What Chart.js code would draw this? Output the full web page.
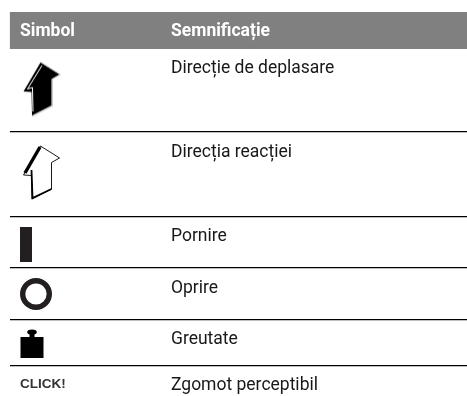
<!DOCTYPE html>
<html><head><meta charset="utf-8">
<script src="https://cdn.jsdelivr.net/npm/chart.js@4/dist/chart.umd.js"></script>
<style>html,body{margin:0;padding:0;background:#fff}#w{position:relative;width:467px;height:396px}</style>
</head><body><div id="w"><canvas id="c" width="467" height="396"></canvas></div>
<script>
// Table content
const headers = ["Simbol", "Semnificație"];
const meanings = ["Direcție de deplasare", "Direcția reacției", "Pornire", "Oprire", "Greutate", "Zgomot perceptibil"];
const symbolNames = ["arrowFilled", "arrowOutline", "bar", "ring", "weight", "click"];
// Axis values (table units)
const headerBand = [12, 49];
const rowRules = [132, 216.4, 267.3, 319.4, 365.4];
const meaningBaselines = [73, 157, 241, 292.7, 343.7, 390];
const symbolX = [32.5, 32.5, 16.5, 26.5, 22.5];
const symbolY = [89.5, 173, 244.5, 294, 343];
const textColumnX = 161.5, symbolColumnX = 10.5;

function icon(w, h, draw) {
  const c = document.createElement('canvas');
  c.width = w; c.height = h;
  draw(c.getContext('2d'));
  return c;
}
const arrowPath = (g) => {
  g.beginPath();
  g.moveTo(19.5, 2); g.lineTo(38.5, 14); g.lineTo(30.5, 18.5); g.lineTo(30.5, 45);
  g.lineTo(11, 55); g.lineTo(10.5, 31.5); g.lineTo(2.5, 31); g.closePath();
};
const icons = {
  arrowFilled: icon(42, 58, g => {
    arrowPath(g); g.fillStyle = '#000'; g.fill();
    g.strokeStyle = '#bbb'; g.lineWidth = 0.8;
    g.beginPath(); g.moveTo(19.5,1.5); g.lineTo(39.5,14); g.lineTo(31.5,18.5); g.lineTo(31.5,45.5); g.lineTo(11,56); g.stroke();
    g.strokeStyle = '#fff'; g.lineWidth = 1;
    g.beginPath(); g.moveTo(21,5); g.lineTo(6.5,28.5); g.lineTo(11.5,27); g.lineTo(12,51); g.stroke();
  }),
  arrowOutline: icon(42, 58, g => {
    arrowPath(g); g.fillStyle = '#fff'; g.fill();
    g.strokeStyle = '#000'; g.lineWidth = 0.9; g.stroke();
    g.lineWidth = 3.4; g.lineCap = 'butt';
    g.beginPath(); g.moveTo(19,3); g.lineTo(4,29); g.stroke();
    g.lineWidth = 1.8;
    g.beginPath(); g.moveTo(10.5,26); g.lineTo(11.5,54); g.lineTo(30.5,45); g.stroke();
  }),
  bar: icon(12, 35, g => { g.fillStyle = '#231f20'; g.fillRect(0, 0, 12, 35); }),
  ring: icon(34, 34, g => {
    g.strokeStyle = '#231f20'; g.lineWidth = 5.4;
    g.beginPath(); g.arc(17, 17, 13.3, 0, Math.PI * 2); g.stroke();
  }),
  weight: icon(24, 30, g => {
    g.fillStyle = '#000';
    g.fillRect(0.5, 9, 23, 21);
    g.fillRect(9.5, 5, 5, 5);
    g.beginPath(); g.ellipse(12, 4, 4.8, 2.6, 0, 0, Math.PI * 2); g.fill();
  })
};

const tablePlugin = {
  id: 'tableText',
  afterDatasetsDraw(chart) {
    const { ctx, scales: { x, y } } = chart;
    ctx.save();
    ctx.textBaseline = 'alphabetic'; ctx.textAlign = 'left';
    ctx.font = 'bold 17.5px Roboto';
    ctx.fillStyle = '#fff';
    ctx.fillText(headers[0], x.getPixelForValue(symbolColumnX), y.getPixelForValue(35.5));
    ctx.fillText(headers[1], x.getPixelForValue(textColumnX), y.getPixelForValue(35.5));
    ctx.font = '17.5px Roboto';
    ctx.fillStyle = '#1a1718';
    meanings.forEach((m, i) => ctx.fillText(m, x.getPixelForValue(textColumnX), y.getPixelForValue(meaningBaselines[i])));
    ctx.font = 'bold 13.5px "Liberation Sans"';
    ctx.fillStyle = '#333';
    ctx.fillText('CLICK!', x.getPixelForValue(symbolColumnX), y.getPixelForValue(388));
    ctx.restore();
  }
};

new Chart(document.getElementById('c'), {
  type: 'scatter',
  data: {
    datasets: [
      {
        label: 'Header',
        data: [{ x: 0, y: headerBand[0] }, { x: 457.5, y: headerBand[0] }],
        showLine: true, borderWidth: 0, pointRadius: 0, tension: 0,
        fill: { value: headerBand[1] }, backgroundColor: '#808080'
      },
      {
        label: 'Symbols',
        data: symbolX.map((v, i) => ({ x: v, y: symbolY[i] })),
        pointStyle: symbolX.map((_, i) => icons[symbolNames[i]]),
        pointRadius: 10, showLine: false
      }
    ]
  },
  plugins: [tablePlugin],
  options: {
    responsive: false, animation: false,
    layout: { autoPadding: false, padding: { left: 9.5, right: 0, top: 0, bottom: 0 } },
    plugins: { legend: { display: false }, tooltip: { enabled: false } },
    scales: {
      x: { type: 'linear', min: 0, max: 457.5, display: false },
      y: {
        type: 'linear', reverse: true, min: 0, max: 396,
        afterBuildTicks: s => { s.ticks = rowRules.map(v => ({ value: v })); },
        grid: { color: '#000', lineWidth: 1.3, drawTicks: false },
        border: { display: false },
        ticks: { display: false }
      }
    }
  }
});
</script></body></html>
